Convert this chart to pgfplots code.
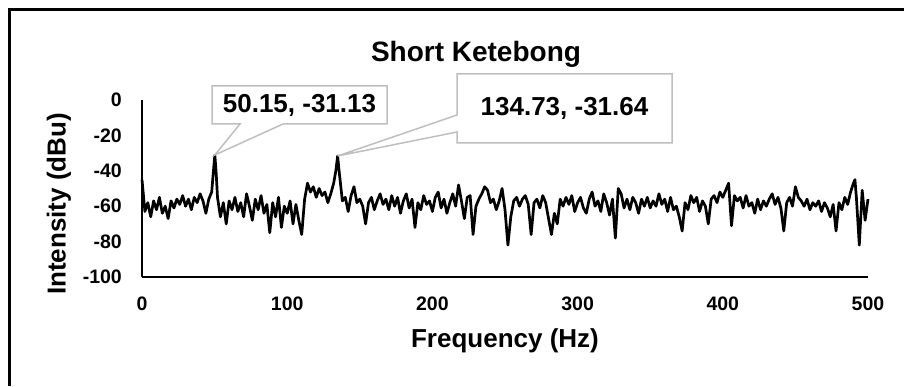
\documentclass[border=0pt]{standalone}
\usepackage{fontspec}
\setmainfont{Liberation Sans}
\usepackage{pgfplots}
\pgfplotsset{compat=1.18}
\definecolor{callgray}{RGB}{191,191,191}
\begin{document}
\begin{tikzpicture}[x=1pt,y=1pt]
\path[use as bounding box] (0,0) rectangle (904,386);
\draw[line width=2.5pt] (9.5,0) -- (9.5,376.5) -- (904,376.5);
\begin{axis}[
  at={(142pt,109pt)}, anchor=south west,
  scale only axis, width=726pt, height=177pt,
  xmin=0, xmax=500, ymin=-100, ymax=0,
  axis lines*=left,
  xtick={0,100,...,500}, ytick={-100,-80,...,0},
  major tick length=0pt,
  tick label style={font=\fontsize{19.5}{20}\selectfont\bfseries},
  /pgf/number format/assume math mode=true,
  yticklabel style={anchor=east, inner sep=0pt, xshift=-20pt},
  xticklabel style={anchor=north, inner sep=0pt, yshift=-20pt},
  axis line style={line width=1.3pt, black},
  clip=false,
]
\addplot[black, line width=2.7pt, line join=round, mark=none] coordinates {
(0,-45)(2,-63)(4,-58)(6,-66)(8,-57)(10,-62)(12,-55)(14,-64)(16,-60)(18,-67)
(20,-57)(22,-61)(24,-56)(26,-59)(28,-54)(30,-60)(32,-56)(34,-62)(36,-55)(38,-58)
(40,-53)(42,-57)(44,-64)(46,-56)(48,-52)(49,-42)(50.15,-31.13)(51,-40)(52,-55)(54,-66)
(56,-58)(58,-70)(60,-57)(62,-62)(64,-55)(66,-63)(68,-58)(70,-66)(72,-53)(74,-60)
(76,-68)(78,-56)(80,-62)(82,-54)(84,-64)(86,-59)(88,-75)(90,-58)(92,-66)(94,-55)
(96,-72)(98,-60)(100,-64)(102,-57)(104,-70)(106,-59)(108,-68)(110,-76)(112,-56)(114,-47)
(116,-52)(118,-49)(120,-55)(122,-50)(124,-54)(126,-52)(128,-58)(130,-53)(132,-47)(133.5,-40)
(134.73,-31.64)(136,-42)(138,-57)(140,-55)(142,-63)(144,-54)(146,-49)(148,-58)(150,-56)(152,-60)
(154,-70)(156,-58)(158,-55)(160,-62)(162,-57)(164,-53)(166,-59)(168,-56)(170,-62)(172,-54)
(174,-60)(176,-55)(178,-64)(180,-57)(182,-53)(184,-61)(186,-56)(188,-72)(190,-58)(192,-62)
(194,-54)(196,-59)(198,-57)(200,-63)(202,-55)(204,-52)(206,-61)(208,-56)(210,-64)(212,-58)
(214,-53)(216,-60)(218,-48)(220,-57)(222,-67)(224,-55)(226,-54)(228,-76)(230,-60)(232,-56)
(234,-53)(236,-49)(238,-51)(240,-58)(242,-56)(244,-62)(246,-57)(248,-50)(250,-62)(252,-82)
(254,-66)(256,-57)(258,-55)(260,-60)(262,-56)(264,-54)(266,-59)(268,-76)(270,-58)(272,-56)
(274,-61)(276,-54)(278,-58)(280,-67)(282,-76)(284,-64)(286,-70)(288,-56)(290,-60)(292,-55)
(294,-59)(296,-54)(298,-63)(300,-58)(302,-55)(304,-61)(306,-64)(308,-56)(310,-52)(312,-60)
(314,-57)(316,-63)(318,-53)(320,-58)(322,-65)(324,-56)(326,-78)(328,-50)(330,-53)(332,-61)
(334,-56)(336,-62)(338,-55)(340,-58)(342,-64)(344,-56)(346,-60)(348,-55)(350,-61)(352,-57)
(354,-60)(356,-53)(358,-59)(360,-56)(362,-63)(364,-55)(366,-62)(368,-60)(370,-66)(372,-74)
(374,-58)(376,-62)(378,-54)(380,-58)(382,-55)(384,-63)(386,-57)(388,-60)(390,-70)(392,-56)
(394,-54)(396,-58)(398,-52)(400,-55)(402,-51)(404,-47)(406,-71)(408,-54)(410,-57)(412,-55)
(414,-61)(416,-54)(418,-60)(420,-58)(422,-64)(424,-56)(426,-62)(428,-57)(430,-60)(432,-56)
(434,-53)(436,-59)(438,-55)(440,-61)(442,-74)(444,-58)(446,-55)(448,-60)(450,-49)(452,-55)
(454,-57)(456,-60)(458,-56)(460,-62)(462,-58)(464,-60)(466,-57)(468,-63)(470,-58)(472,-61)
(474,-66)(476,-59)(478,-74)(480,-58)(482,-62)(484,-55)(486,-59)(488,-52)(490,-47)(491,-45)
(492,-55)(494,-82)(496,-51)(498,-68)(500,-56)
};
\end{axis}
\node[font=\fontsize{26}{28}\selectfont\bfseries, rotate=90, anchor=center, inner sep=0pt] at (59,182) {Intensity (dBu)};
\node[font=\fontsize{26}{28}\selectfont\bfseries, anchor=north, inner sep=0pt] at (505,58) {Frequency (Hz)};
\node[font=\fontsize{28}{30}\selectfont\bfseries, anchor=base, inner sep=0pt] at (476,324) {Short Ketebong};
\filldraw[fill=white, draw=callgray, line width=1.5pt, line join=miter] (212,300) -- (387,300) -- (387,262) -- (283,262) -- (214.8,231) -- (240,262) -- (212,262) -- cycle;
\node[font=\fontsize{26}{28}\selectfont\bfseries, anchor=center, inner sep=0pt] at (299.5,281) {50.15, -31.13};
\filldraw[fill=white, draw=callgray, line width=1.5pt, line join=miter] (457,312) -- (672,312) -- (672,243) -- (457,243) -- (457,254) -- (337.6,230) -- (457,271) -- cycle;
\node[font=\fontsize{26}{28}\selectfont\bfseries, anchor=center, inner sep=0pt] at (564.5,277.5) {134.73, -31.64};
\end{tikzpicture}
\end{document}
